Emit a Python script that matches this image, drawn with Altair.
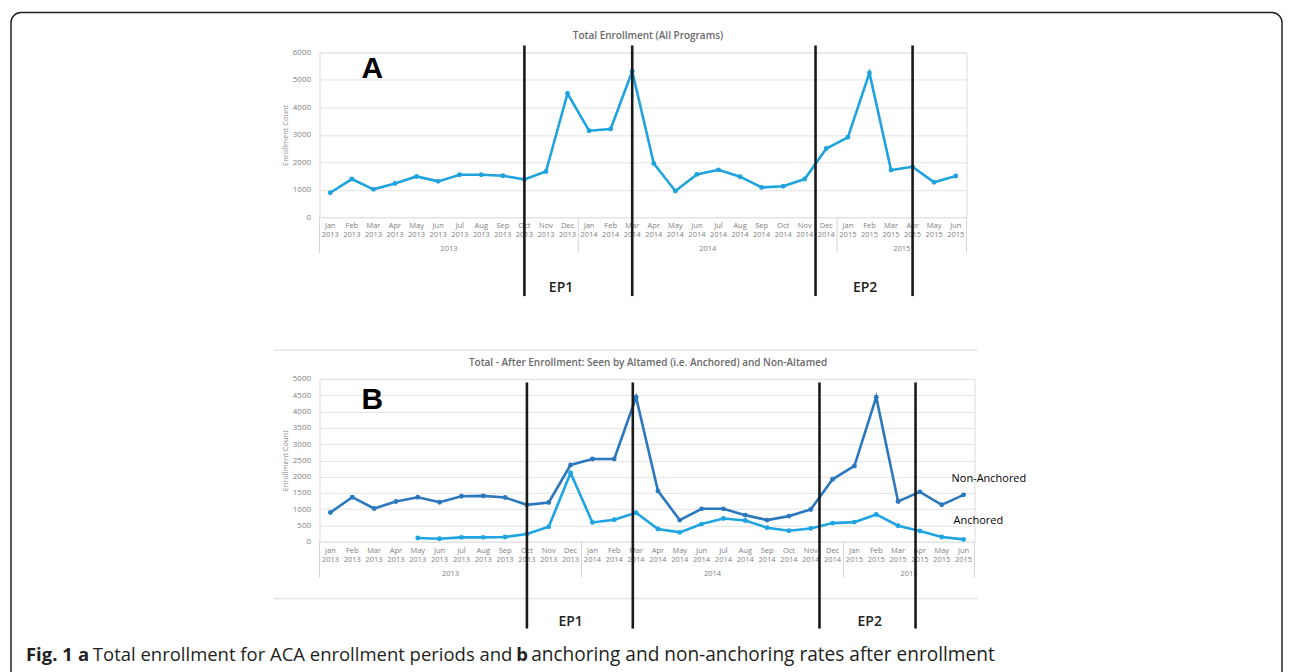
import altair as alt
import pandas as pd

# ---------------- data ----------------
months = ["Jan", "Feb", "Mar", "Apr", "May", "Jun", "Jul", "Aug", "Sep", "Oct", "Nov", "Dec"]
period_months = months * 2 + months[:6]
period_years = ["2013"] * 12 + ["2014"] * 12 + ["2015"] * 6

total_all = [890, 1390, 1015, 1230, 1485, 1305, 1545, 1545, 1510, 1375, 1665, 4505,
             3150, 3215, 5315, 1955, 955, 1560, 1725, 1475, 1085, 1125, 1390, 2500,
             2910, 5255, 1715, 1835, 1270, 1500]
non_anchored = [898, 1367, 1020, 1235, 1367, 1214, 1398, 1408, 1357, 1133, 1204, 2357,
                2541, 2541, 4439, 1561, 663, 1010, 1010, 816, 663, 786, 990, 1918,
                2327, 4439, 1235, 1531, 1133, 1439]
anchored = [None, None, None, None, 112, 92, 133, 133, 143, 235, 459, 2112,
            592, 673, 888, 388, 286, 541, 714, 653, 429, 337, 408, 571,
            602, 837, 490, 327, 143, 71]

year_names = ["2013", "2014", "2015"]
year_mid = [5.5, 17.5, 26.5]
year_bounds = [-0.5, 11.5, 23.5, 29.5]

ep_lines_a = [9, 14, 22.5, 27]
ep_lines_b = [9, 13.85, 22.4, 26.8]
ep_names = ["EP1", "EP2"]
ep_label_a = [10.7, 24.8]
ep_label_b = [11.0, 24.7]

series_names = ["Non-Anchored", "Anchored"]
series_colors = ["#2C78BE", "#1EA5E1"]

# ---------------- tables ----------------
n = len(period_months)
ticks_df = pd.DataFrame({"x": list(range(n)), "m": period_months, "yr": period_years})

df_a = pd.DataFrame({"idx": list(range(n)), "value": total_all})
rows = []
for i in range(n):
    rows.append({"idx": i, "value": non_anchored[i], "series": series_names[0]})
    if anchored[i] is not None:
        rows.append({"idx": i, "value": anchored[i], "series": series_names[1]})
df_b = pd.DataFrame(rows)

years_df = pd.DataFrame({"x": year_mid, "t": year_names})
bounds_df = pd.DataFrame({"x": year_bounds})
ep_a_df = pd.DataFrame({"x": ep_lines_a})
ep_b_df = pd.DataFrame({"x": ep_lines_b})
epl_a_df = pd.DataFrame({"x": ep_label_a, "t": ep_names})
epl_b_df = pd.DataFrame({"x": ep_label_b, "t": ep_names})
one = pd.DataFrame({"k": [0]})

GRAY = "#808080"
FONT = "Open Sans"
XS = alt.Scale(domain=[-0.5, 29.5], nice=False, zero=False)


def x_enc(title_x, title_y):
    return alt.X(
        "idx:Q",
        scale=XS,
        axis=alt.Axis(
            values=list(range(n)), labels=False, ticks=False, grid=False,
            domainColor="#d6d6d6", domainWidth=1,
            title="Time", titleFont=FONT, titleFontSize=8, titleFontWeight="normal",
            titleColor=GRAY, titleX=title_x, titleY=title_y, titleAlign="center",
            titleBaseline="middle",
        ),
    )


def y_enc(ymax, step):
    return alt.Y(
        "value:Q",
        scale=alt.Scale(domain=[0, ymax], nice=False, zero=True),
        axis=alt.Axis(
            values=list(range(0, ymax + 1, step)), format="d", grid=True,
            gridColor="#e2e2e2", gridWidth=1, domain=False, ticks=False,
            labelFont=FONT, labelFontSize=8, labelColor=GRAY, labelPadding=9,
            title="Enrollment Count", titleFont=FONT, titleFontSize=7.5,
            titleFontWeight="normal", titleColor="#8c8c8c", titleX=-34.5,
            titleBaseline="middle",
        ),
    )


def xq(field="x"):
    return alt.X(f"{field}:Q", scale=XS, axis=None)


def common_layers(H, ep_df, epl_df, ep_y1, ep_y2, epl_y, letter, letter_y, title):
    mlab = alt.Chart(ticks_df).mark_text(font=FONT, fontSize=7.5, color=GRAY, baseline="middle").encode(
        x=xq(), y=alt.value(H + 9), text="m:N")
    ylab = alt.Chart(ticks_df).mark_text(font=FONT, fontSize=7.5, color=GRAY, baseline="middle").encode(
        x=xq(), y=alt.value(H + 18), text="yr:N")
    yrs = alt.Chart(years_df).mark_text(font=FONT, fontSize=7.5, color=GRAY, baseline="middle").encode(
        x=xq(), y=alt.value(H + 32), text="t:N")
    seps = alt.Chart(bounds_df).mark_rule(color="#d6d6d6", strokeWidth=1).encode(
        x=xq(), y=alt.value(H), y2=alt.value(H + 36))
    eps = alt.Chart(ep_df).mark_rule(color="#1a1a1a", strokeWidth=2.6).encode(
        x=xq(), y=alt.value(ep_y1), y2=alt.value(ep_y2))
    epl = alt.Chart(epl_df).mark_text(font=FONT, fontSize=14, fontWeight=600, color="#222222",
                                      baseline="middle").encode(
        x=xq(), y=alt.value(epl_y), text="t:N")
    let = alt.Chart(one).mark_text(font="Liberation Sans", fontSize=30, fontWeight="bold",
                                   color="#000000", baseline="alphabetic").encode(
        x=alt.value(53), y=alt.value(letter_y), text=alt.value(letter))
    ttl = alt.Chart(one).mark_text(font=FONT, fontSize=10, fontWeight=600, color="#6a6a6a",
                                   baseline="middle").encode(
        x=alt.value(329), y=alt.value(-16), text=alt.value(title))
    return [seps, mlab, ylab, yrs, let, ttl], [eps, epl]


# ---------------- panel A ----------------
WA, HA = 648, 165
border = alt.Chart(one).mark_rect(stroke="#231f20", strokeWidth=1.5, fill="#ffffff", fillOpacity=0,
                                  cornerRadius=10).encode(
    x=alt.value(-309), x2=alt.value(964), y=alt.value(-40), y2=alt.value(634))

base_a = alt.Chart(df_a).encode(x=x_enc(333, 44), y=y_enc(6000, 1000))
line_a = base_a.mark_line(color="#1FA3DE", strokeWidth=2.6)
pts_a = base_a.mark_circle(color="#1FA3DE", size=24, opacity=1)
pre_a, post_a = common_layers(HA, ep_a_df, epl_a_df, -7, 244, 236, "A", 26,
                              "Total Enrollment (All Programs)")
panel_a = alt.layer(border, line_a, pts_a, *pre_a, *post_a).properties(width=WA, height=HA)

# ---------------- panel B ----------------
WB, HB = 656, 163
color = alt.Color("series:N", scale=alt.Scale(domain=series_names, range=series_colors), legend=None)
base_b = alt.Chart(df_b).encode(x=x_enc(329, 42), y=y_enc(5000, 500), color=color)
line_b = base_b.mark_line(strokeWidth=2.6)
pts_b = base_b.mark_circle(size=24, opacity=1)
pre_b, post_b = common_layers(HB, ep_b_df, epl_b_df, 3.5, 250, 243, "B", 30,
                              "Total - After Enrollment: Seen by Altamed (i.e. Anchored) and Non-Altamed")

frame_lines = alt.Chart(pd.DataFrame({"y": [-29, 220]})).mark_rule(color="#e4e4e4", strokeWidth=1.5).encode(
    x=alt.value(-46), x2=alt.value(659), y=alt.Y("y:Q", scale=None))

lab_non = alt.Chart(one).mark_text(font=FONT, fontSize=11, color="#000000", align="left",
                                   baseline="middle").encode(
    x=alt.value(633), y=alt.value(100), text=alt.value(series_names[0]))
lab_anc = alt.Chart(one).mark_text(font=FONT, fontSize=11, color="#000000", align="left",
                                   baseline="middle").encode(
    x=alt.value(635), y=alt.value(142), text=alt.value(series_names[1]))

cap_parts = [
    ("Fig. 1", "bold", -294, 18.5),
    ("a", "bold", -242, 18.5),
    ("Total enrollment for ACA enrollment periods and", "normal", -227, 18.5),
    ("b", "bold", 197, 18.5),
    ("anchoring and non-anchoring rates after enrollment", "normal", 212, 19.1),
]
caps = []
for txt, wt, xx, fs in cap_parts:
    caps.append(alt.Chart(one).mark_text(font=FONT, fontSize=fs, fontWeight=wt, color="#231f20",
                                         align="left", baseline="alphabetic").encode(
        x=alt.value(xx), y=alt.value(282), text=alt.value(txt)))

panel_b = alt.layer(frame_lines, line_b, pts_b, *pre_b, *post_b, lab_non, lab_anc, *caps).properties(
    width=WB, height=HB)

chart = alt.vconcat(panel_a, panel_b, spacing=162, bounds="flush").properties(
    padding={"left": 1, "top": 2, "right": 0, "bottom": 0}
).configure_view(stroke=None).configure(background="#ffffff")

chart.save("out.html", embed_options={"renderer": "svg", "actions": False})
